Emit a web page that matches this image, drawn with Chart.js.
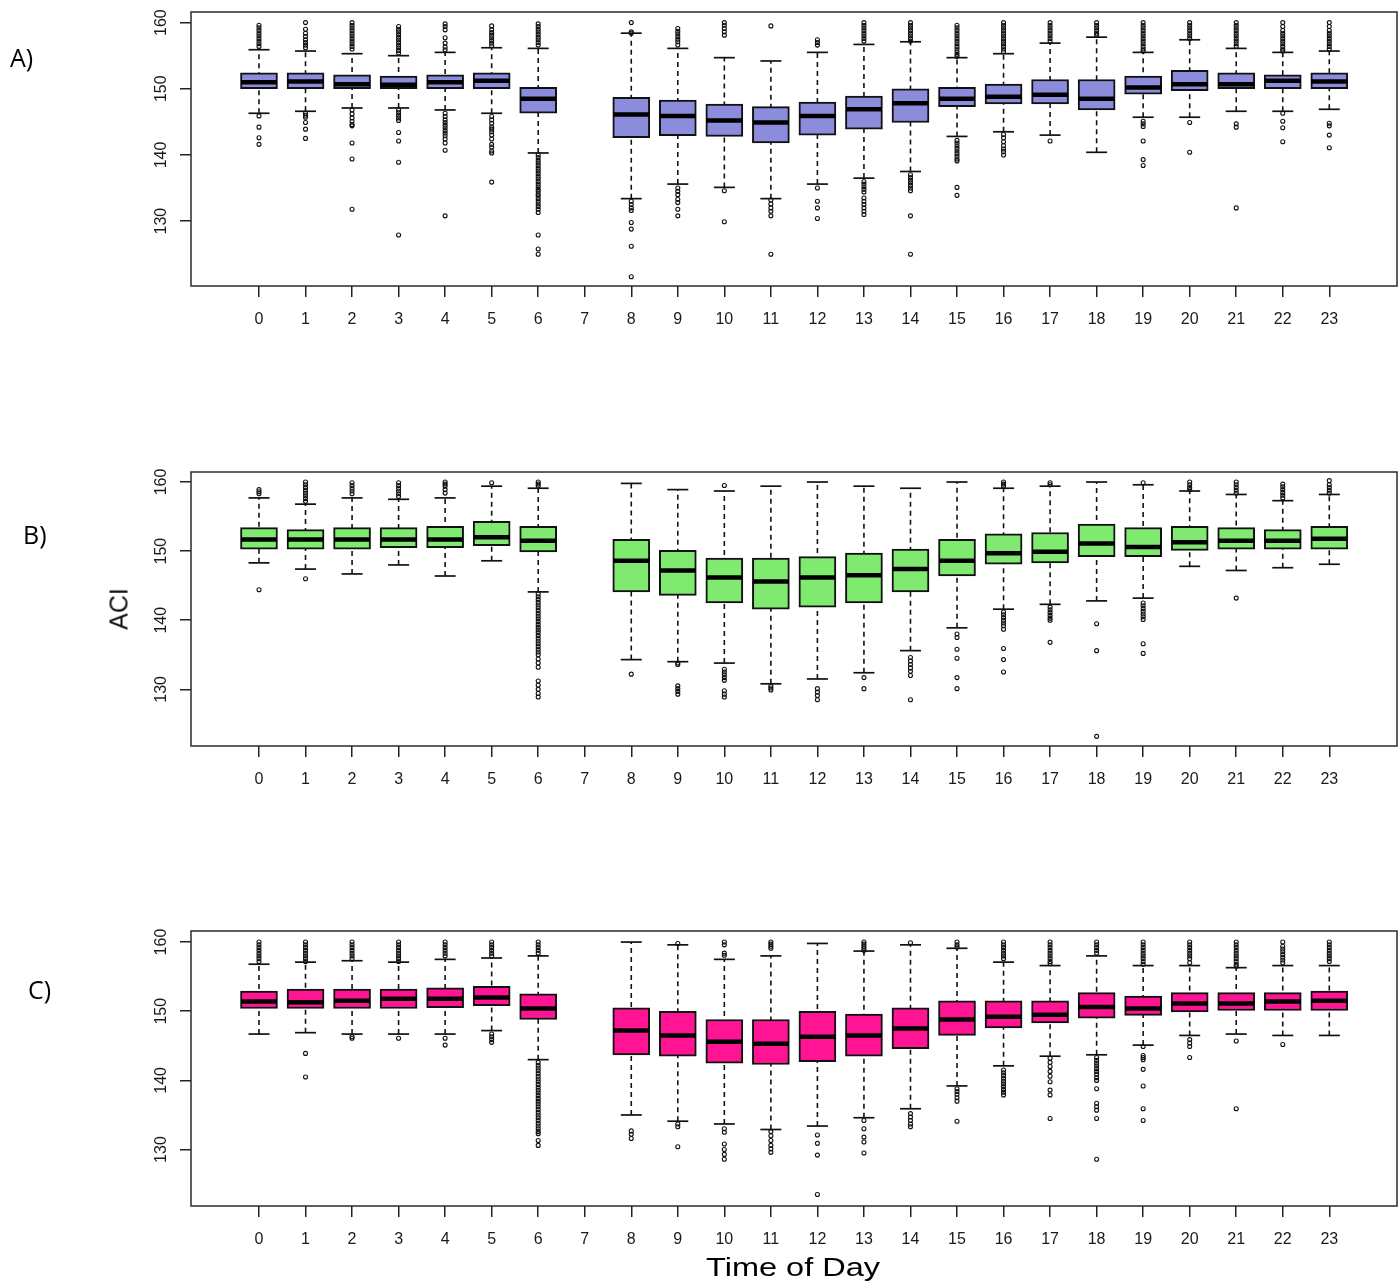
<!DOCTYPE html>
<html>
<head>
<meta charset="utf-8">
<script src="https://cdn.jsdelivr.net/npm/chart.js@4.4.1/dist/chart.umd.min.js"></script>
<style>
  body { margin: 0; background: #fff; }
  #page { position: relative; width: 1400px; height: 1288px; overflow: hidden; font-family: "Liberation Sans", Arial, sans-serif; }
  .panel { position: absolute; left: 0; width: 1400px; height: 340px; }
  .tag { position: absolute; font-family: "Open Sans", sans-serif; font-size: 25px; line-height: 1; color: #000; }
  #ylab { position: absolute; left: 119px; top: 609px; font-size: 25px; line-height: 1; transform: translate(-50%, -50%) rotate(-90deg); color: #111; }
  #xlab { position: absolute; left: 793px; top: 1255px; font-size: 25px; line-height: 1; transform: translateX(-50%) scaleX(1.3); color: #000; white-space: nowrap; }
</style>
</head>
<body>
<div id="page">
  <div class="panel" style="top:0"><canvas id="chartA" width="1400" height="340"></canvas></div>
  <div class="panel" style="top:460px"><canvas id="chartB" width="1400" height="340"></canvas></div>
  <div class="panel" style="top:920px"><canvas id="chartC" width="1400" height="340"></canvas></div>
  <div class="tag" style="left:10px; top:45px">A)</div>
  <div class="tag" style="left:23px; top:522px">B)</div>
  <div class="tag" style="left:28px; top:977px">C)</div>
  <div id="ylab">ACI</div>
  <div id="xlab">Time of Day</div>
</div>
<script>
const hours = [0, 1, 2, 3, 4, 5, 6, 7, 8, 9, 10, 11, 12, 13, 14, 15, 16, 17, 18, 19, 20, 21, 22, 23];
const yTicks = [130, 140, 150, 160];

// A) five-number summaries per hour (hour 7 has no data)
const aLow  = [146.3, 146.6, 147.1, 147.1, 146.8, 146.3, 140.3, null, 133.4, 135.6, 135.1, 133.4, 135.6, 136.5, 137.5, 142.8, 143.5, 143.0, 140.4, 145.7, 145.7, 146.6, 146.6, 146.9];
const aQ1   = [150.0, 150.0, 150.0, 150.0, 150.0, 150.0, 146.3, null, 142.6, 142.9, 142.8, 141.8, 143.0, 143.9, 144.9, 147.3, 147.7, 147.7, 146.8, 149.2, 149.7, 150.0, 150.0, 150.0];
const aMed  = [151.0, 151.1, 150.7, 150.6, 151.0, 151.2, 148.5, null, 146.1, 145.9, 145.2, 144.9, 145.9, 146.9, 147.8, 148.5, 148.8, 149.1, 148.5, 150.2, 150.7, 150.7, 151.2, 151.1];
const aQ3   = [152.4, 152.4, 152.1, 151.9, 152.1, 152.4, 150.2, null, 148.7, 148.3, 147.7, 147.3, 148.0, 148.9, 150.0, 150.2, 150.7, 151.4, 151.4, 151.9, 152.8, 152.4, 152.1, 152.4];
const aHigh = [155.9, 155.7, 155.3, 155.0, 155.5, 156.2, 156.1, null, 158.4, 156.1, 154.7, 154.2, 155.5, 156.7, 157.1, 154.7, 155.3, 156.9, 157.8, 155.5, 157.4, 156.1, 155.5, 155.7];
const aOut = [
  [159.6, 159.2, 158.8, 158.4, 158.0, 157.6, 157.2, 156.8, 156.4, 145.9, 144.2, 142.6, 141.6],
  [160.0, 159.0, 158.4, 157.9, 157.4, 157.0, 156.6, 156.2, 146.3, 146.0, 145.7, 144.9, 143.9, 142.5],
  [160.0, 159.6, 159.2, 158.8, 158.4, 158.0, 157.6, 157.2, 156.8, 156.4, 156.0, 146.8, 146.2, 145.6, 145.1, 144.6, 144.4, 141.8, 139.4, 131.8],
  [159.4, 159.0, 158.6, 158.2, 157.8, 157.4, 157.0, 156.6, 156.2, 155.8, 155.4, 146.8, 146.4, 146.0, 145.6, 145.2, 143.4, 142.1, 138.9, 127.9],
  [159.8, 159.4, 158.9, 157.7, 156.9, 156.3, 155.9, 146.3, 145.8, 145.3, 144.9, 144.5, 144.1, 143.7, 143.3, 142.9, 142.4, 141.8, 140.7, 130.8],
  [159.5, 158.9, 158.5, 158.1, 157.7, 157.3, 156.9, 156.5, 145.8, 145.3, 144.8, 144.2, 143.9, 143.5, 143.0, 142.4, 141.6, 141.2, 140.6, 140.3, 135.9],
  [159.8, 159.4, 159.0, 158.6, 158.2, 157.8, 157.4, 157.0, 156.6, 140.0, 139.6, 139.2, 138.8, 138.4, 138.0, 137.6, 137.2, 136.8, 136.4, 136.0, 135.6, 135.2, 134.8, 134.5, 134.1, 133.8, 133.4, 133.0, 132.6, 132.2, 131.8, 131.3, 127.9, 125.8, 125.0],
  [],
  [160.0, 158.6, 158.4, 133.0, 132.5, 132.0, 131.6, 129.8, 128.8, 126.2, 121.6],
  [159.1, 158.7, 158.3, 157.9, 157.5, 157.1, 156.6, 135.0, 134.5, 134.0, 133.3, 132.8, 131.8, 130.8],
  [160.0, 159.6, 159.1, 158.6, 158.1, 134.6, 129.9],
  [159.5, 133.2, 132.6, 132.0, 131.5, 130.8, 125.0],
  [157.4, 157.0, 156.6, 135.0, 133.0, 132.0, 130.4],
  [160.0, 159.6, 159.2, 158.8, 158.4, 158.0, 157.6, 157.2, 136.0, 135.6, 135.2, 134.8, 134.4, 133.5, 133.0, 132.5, 132.0, 131.5, 131.0],
  [160.0, 159.6, 159.2, 158.8, 158.4, 158.0, 157.6, 157.2, 137.0, 136.6, 136.2, 135.8, 135.4, 135.0, 134.6, 130.8, 125.0],
  [159.6, 159.2, 158.8, 158.4, 158.0, 157.6, 157.2, 156.8, 156.4, 156.0, 155.6, 155.2, 154.9, 142.2, 141.8, 141.4, 141.0, 140.6, 140.2, 139.8, 139.4, 139.1, 135.1, 133.9],
  [160.0, 159.6, 159.2, 158.8, 158.4, 158.0, 157.6, 157.2, 156.8, 156.4, 156.0, 155.6, 143.1, 142.6, 142.0, 141.4, 140.9, 140.5, 140.0],
  [160.0, 159.6, 159.2, 158.8, 158.4, 158.0, 157.6, 157.2, 142.1],
  [160.0, 159.6, 159.2, 158.8, 158.4, 158.1],
  [160.0, 159.6, 159.2, 158.8, 158.4, 158.0, 157.6, 157.2, 156.8, 156.4, 156.0, 155.7, 145.1, 144.7, 144.3, 142.1, 139.3, 138.4],
  [160.0, 159.6, 159.2, 158.8, 158.4, 158.0, 157.6, 144.9, 140.4],
  [160.0, 159.6, 159.2, 158.8, 158.4, 158.0, 157.6, 157.2, 156.8, 156.4, 144.7, 144.2, 132.0],
  [160.0, 159.4, 158.8, 158.4, 158.0, 157.6, 157.2, 156.8, 156.4, 156.0, 155.7, 146.3, 145.1, 144.1, 142.0],
  [160.0, 159.4, 158.8, 158.4, 158.0, 157.6, 157.2, 156.8, 156.4, 156.0, 144.8, 144.4, 143.0, 141.1]
];

// B)
const bLow  = [148.3, 147.4, 146.7, 148.0, 146.4, 148.6, 144.1, null, 134.3, 134.0, 133.8, 130.8, 131.5, 132.4, 135.6, 138.9, 141.6, 142.3, 142.8, 143.2, 147.8, 147.2, 147.6, 148.1];
const bQ1   = [150.3, 150.3, 150.3, 150.5, 150.5, 150.8, 149.9, null, 144.1, 143.6, 142.5, 141.6, 141.9, 142.5, 144.1, 146.4, 148.1, 148.3, 149.2, 149.2, 150.1, 150.3, 150.3, 150.3];
const bMed  = [151.7, 151.7, 151.7, 151.7, 151.7, 152.0, 151.5, null, 148.6, 147.2, 146.2, 145.6, 146.2, 146.5, 147.4, 148.6, 149.7, 149.9, 151.1, 150.6, 151.3, 151.5, 151.5, 151.8];
const bQ3   = [153.4, 153.1, 153.4, 153.4, 153.6, 154.3, 153.6, null, 151.7, 150.1, 149.0, 149.0, 149.2, 149.7, 150.3, 151.7, 152.5, 152.7, 153.9, 153.4, 153.6, 153.4, 153.1, 153.6];
const bHigh = [157.7, 156.8, 157.7, 157.5, 157.7, 159.4, 159.1, null, 159.8, 158.9, 158.7, 159.4, 160.0, 159.4, 159.1, 160.0, 159.1, 159.4, 160.0, 159.6, 158.7, 158.2, 157.3, 158.2];
const bOut = [
  [158.9, 158.6, 158.3, 144.4],
  [160.0, 159.6, 159.2, 158.8, 158.4, 158.0, 157.6, 157.2, 146.0],
  [159.9, 159.5, 159.1, 158.7, 158.3],
  [159.9, 159.5, 159.1, 158.7, 158.3, 157.9],
  [160.0, 159.7, 159.4, 158.9, 158.4],
  [159.9],
  [160.0, 159.7, 159.4, 143.8, 143.4, 143.0, 142.6, 142.2, 141.8, 141.4, 141.0, 140.6, 140.2, 139.8, 139.4, 139.0, 138.6, 138.2, 137.8, 137.4, 137.0, 136.6, 136.2, 135.8, 135.4, 135.0, 134.4, 133.8, 133.2, 131.2, 130.6, 130.0, 129.4, 128.9],
  [],
  [132.2],
  [133.8, 133.6, 130.5, 130.1, 129.7, 129.3],
  [159.5, 132.9, 132.5, 132.1, 131.7, 131.3, 129.8, 129.3, 128.9],
  [130.5, 130.2, 129.9],
  [130.1, 129.6, 129.1, 128.5],
  [131.7, 130.1],
  [134.6, 134.1, 133.6, 133.1, 132.6, 132.0, 128.5],
  [138.0, 137.5, 135.8, 134.5, 131.7, 130.1],
  [160.0, 159.7, 159.4, 141.2, 140.8, 140.4, 140.0, 139.6, 139.2, 138.7, 135.9, 134.3, 132.5],
  [159.9, 159.6, 141.9, 141.5, 141.1, 140.7, 140.3, 140.0, 136.8],
  [139.5, 135.6, 123.2],
  [159.9, 142.5, 142.1, 141.7, 141.3, 140.9, 140.5, 140.1, 136.6, 135.2],
  [160.0, 159.6, 159.2, 158.9],
  [160.0, 159.6, 159.2, 158.8, 158.4, 143.2],
  [159.7, 159.3, 158.9, 158.5, 158.1, 157.7],
  [160.2, 159.6, 159.2, 158.8, 158.4]
];

// C)
const cLow  = [146.7, 146.9, 146.7, 146.7, 146.7, 147.2, 143.0, null, 135.0, 134.1, 133.7, 132.9, 133.4, 134.6, 135.9, 139.2, 142.1, 143.5, 143.7, 145.1, 146.5, 146.7, 146.5, 146.5];
const cQ1   = [150.4, 150.4, 150.4, 150.4, 150.5, 150.8, 148.8, null, 143.7, 143.5, 142.5, 142.3, 142.7, 143.5, 144.6, 146.5, 147.6, 148.3, 149.0, 149.4, 149.9, 150.1, 150.1, 150.1];
const cMed  = [151.4, 151.3, 151.5, 151.8, 151.8, 152.0, 150.4, null, 147.2, 146.5, 145.6, 145.3, 146.3, 146.5, 147.5, 148.8, 149.2, 149.5, 150.6, 150.4, 151.1, 151.1, 151.4, 151.5];
const cQ3   = [152.9, 153.2, 153.2, 153.2, 153.4, 153.6, 152.5, null, 150.5, 150.0, 148.8, 148.8, 150.0, 149.6, 150.5, 151.5, 151.5, 151.5, 152.7, 152.2, 152.7, 152.7, 152.7, 152.9];
const cHigh = [156.8, 157.1, 157.3, 157.1, 157.5, 157.7, 158.0, null, 160.0, 159.6, 157.5, 158.0, 159.8, 158.7, 159.6, 159.1, 157.1, 156.6, 158.0, 156.6, 156.6, 156.3, 156.6, 156.6];
const cOut = [
  [160.0, 159.6, 159.2, 158.8, 158.4, 158.0, 157.6, 157.2],
  [160.0, 159.6, 159.2, 158.8, 158.4, 158.0, 157.6, 157.2, 143.9, 140.5],
  [160.0, 159.6, 159.2, 158.8, 158.4, 158.0, 157.6, 146.3, 146.1],
  [160.0, 159.6, 159.2, 158.8, 158.4, 158.0, 157.6, 157.2, 146.1],
  [160.0, 159.6, 159.2, 158.8, 158.4, 158.0, 146.1, 145.1],
  [160.0, 159.6, 159.2, 158.8, 158.4, 158.0, 146.7, 146.3, 145.9, 145.5],
  [160.0, 159.6, 159.2, 158.8, 158.4, 142.6, 142.2, 141.8, 141.4, 141.0, 140.6, 140.2, 139.8, 139.4, 139.0, 138.6, 138.2, 137.8, 137.4, 137.0, 136.6, 136.2, 135.8, 135.4, 135.0, 134.6, 134.2, 133.8, 133.4, 133.0, 132.6, 132.3, 131.3, 130.6],
  [],
  [132.7, 132.2, 131.6],
  [159.8, 133.7, 133.3, 130.4],
  [160.0, 159.6, 158.4, 158.1, 133.0, 132.5, 130.8, 130.0, 129.3, 128.6],
  [160.0, 159.7, 159.4, 159.1, 132.6, 132.0, 131.3, 130.6, 130.1, 129.6],
  [132.1, 130.9, 129.2, 123.5],
  [160.0, 159.7, 159.4, 159.1, 158.8, 134.2, 133.0, 131.8, 131.1, 129.5],
  [159.9, 135.2, 134.7, 134.2, 133.7, 133.3],
  [160.0, 159.6, 159.3, 138.8, 138.4, 138.0, 137.5, 137.0, 134.1],
  [160.0, 159.6, 159.2, 158.8, 158.4, 158.0, 157.6, 141.5, 141.1, 140.7, 140.3, 139.9, 139.5, 139.1, 138.7, 138.3, 137.9],
  [160.0, 159.6, 159.2, 158.8, 158.4, 158.0, 157.6, 157.2, 156.9, 143.2, 142.6, 142.0, 141.3, 140.6, 139.8, 138.6, 137.9, 134.5],
  [160.0, 159.6, 159.2, 158.8, 158.4, 143.3, 142.9, 142.5, 142.1, 141.7, 141.3, 140.9, 140.4, 140.0, 138.8, 136.7, 136.2, 135.7, 134.5, 128.6],
  [160.0, 159.6, 159.2, 158.8, 158.4, 158.0, 157.6, 157.2, 156.8, 144.9, 143.6, 143.3, 143.0, 141.6, 139.2, 135.9, 134.2],
  [160.0, 159.6, 159.2, 158.8, 158.4, 158.0, 157.6, 157.0, 145.9, 145.4, 144.9, 143.3],
  [160.0, 159.6, 159.2, 158.8, 158.4, 158.0, 157.6, 157.2, 156.8, 156.5, 145.7, 135.9],
  [160.0, 159.4, 159.0, 158.6, 158.2, 157.8, 157.4, 157.0, 145.2],
  [160.0, 159.6, 159.2, 158.8, 158.4, 158.0, 157.6, 157.2]
];

const tickFont = '"Liberation Sans", Arial, sans-serif';

// box outline + R style vertical y tick labels
const frame = {
  id: 'frame',
  afterDraw(chart) {
    const { ctx, chartArea: a } = chart;
    const ys = chart.scales.y;
    ctx.save();
    ctx.strokeStyle = '#2b2b2b';
    ctx.lineWidth = 1.5;
    ctx.strokeRect(a.left, a.top, a.right - a.left, a.bottom - a.top);
    ctx.fillStyle = '#1a1a1a';
    ctx.font = '16px ' + tickFont;
    ctx.textAlign = 'center';
    ctx.textBaseline = 'middle';
    ys.ticks.forEach(t => {
      ctx.save();
      ctx.translate(a.left - 29.5, ys.getPixelForValue(t.value));
      ctx.rotate(-Math.PI / 2);
      ctx.fillText(String(t.value), 0, 0);
      ctx.restore();
    });
    ctx.restore();
  }
};

function drawPanel(id, low, q1, med, q3, high, out, fill, yMin, yMax, padTop) {
  const idx = hours.map((h, i) => i).filter(i => q1[i] !== null);

  const boxes = idx.map(i => ({ x: hours[i], y: [q1[i], q3[i]] }));
  const medians = idx.map(i => ({ x: hours[i], y: med[i] }));
  const caps = [];
  const whiskers = [];
  idx.forEach(i => {
    caps.push({ x: hours[i], y: low[i] }, { x: hours[i], y: high[i] });
    whiskers.push({ x: hours[i], y: low[i] }, { x: hours[i], y: high[i] }, { x: hours[i], y: null });
  });
  const outliers = [];
  out.forEach((vals, i) => vals.forEach(v => outliers.push({ x: hours[i], y: v })));

  new Chart(document.getElementById(id), {
    type: 'bar',
    data: {
      datasets: [
        {
          type: 'line',
          data: whiskers,
          borderColor: '#111',
          borderWidth: 1.6,
          borderDash: [5, 4],
          pointRadius: 0,
          spanGaps: false,
          fill: false,
          order: 4
        },
        {
          type: 'bar',
          data: boxes,
          backgroundColor: fill,
          borderColor: '#111',
          borderWidth: 2,
          borderSkipped: false,
          barThickness: 37,
          order: 3
        },
        {
          type: 'scatter',
          data: caps,
          pointStyle: 'line',
          pointRadius: 10.5,
          borderColor: '#111',
          borderWidth: 1.7,
          order: 2
        },
        {
          type: 'scatter',
          data: medians,
          pointStyle: 'line',
          pointRadius: 18,
          borderColor: '#000',
          borderWidth: 4.5,
          order: 1
        },
        {
          type: 'scatter',
          data: outliers,
          pointStyle: 'circle',
          pointRadius: 2,
          borderColor: '#111',
          borderWidth: 1.1,
          backgroundColor: 'rgba(0,0,0,0)',
          order: 0
        }
      ]
    },
    options: {
      responsive: false,
      animation: false,
      devicePixelRatio: 1,
      events: [],
      layout: { autoPadding: false, padding: { top: padTop, right: 3, bottom: 0, left: 0 } },
      plugins: {
        legend: { display: false },
        tooltip: { enabled: false }
      },
      scales: {
        x: {
          type: 'linear',
          min: -1.461,
          max: 24.455,
          offset: false,
          afterBuildTicks: s => { s.ticks = hours.map(v => ({ value: v })); },
          afterFit: s => { s.height = 54; },
          grid: { display: true, offset: false, drawOnChartArea: false, drawTicks: true, tickLength: 11, color: '#222', lineWidth: 1.5 },
          border: { display: false },
          ticks: {
            autoSkip: false,
            maxRotation: 0,
            padding: 13,
            color: '#1a1a1a',
            font: { size: 16, family: tickFont },
            callback: v => String(v)
          }
        },
        y: {
          type: 'linear',
          min: yMin,
          max: yMax,
          afterBuildTicks: s => { s.ticks = yTicks.map(v => ({ value: v })); },
          afterFit: s => { s.width = 191; },
          grid: { display: true, drawOnChartArea: false, drawTicks: true, tickLength: 11, color: '#222', lineWidth: 1.5 },
          border: { display: false },
          ticks: { display: false }
        }
      }
    },
    plugins: [frame]
  });
}

drawPanel('chartA', aLow, aQ1, aMed, aQ3, aHigh, aOut, '#8c8cdc', 120.2, 161.6, 12);
drawPanel('chartB', bLow, bQ1, bMed, bQ3, bHigh, bOut, '#80ea70', 121.8, 161.45, 12);
drawPanel('chartC', cLow, cQ1, cMed, cQ3, cHigh, cOut, '#ff1493', 121.84, 161.6, 11);
</script>
</body>
</html>
